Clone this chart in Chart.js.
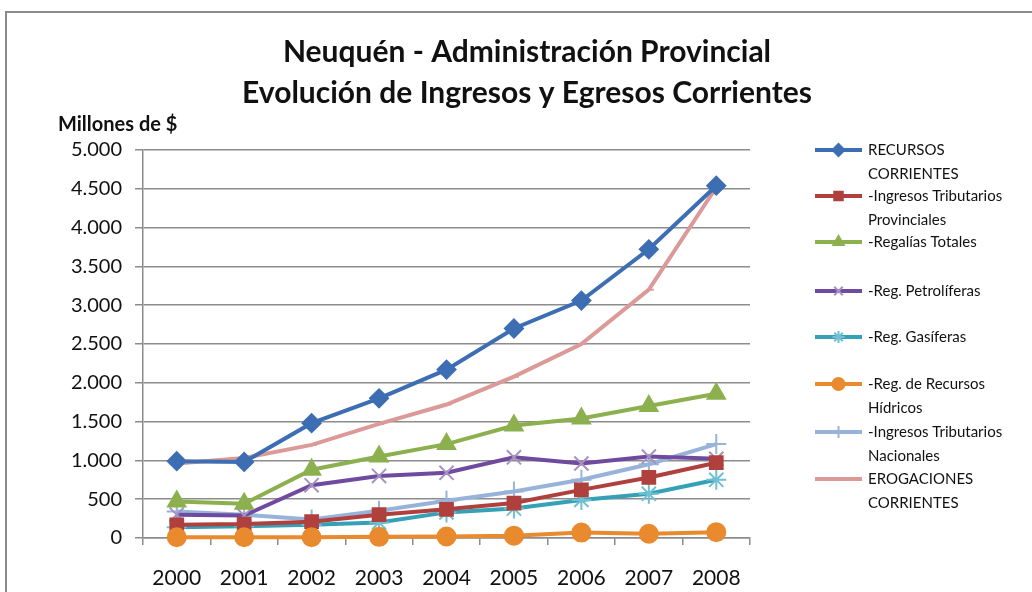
<!DOCTYPE html>
<html>
<head>
<meta charset="utf-8">
<script src="https://cdn.jsdelivr.net/npm/chart.js@4/dist/chart.umd.min.js"></script>
<style>
    html, body { margin: 0; padding: 0; background: #fff; }
    #wrap { position: relative; width: 1032px; height: 592px; overflow: hidden; }
    #frame { position: absolute; left: 5px; top: 11px; width: 1100px; height: 700px;
             border-top: 2px solid #8a8a8a; border-left: 2px solid #8a8a8a; }
    canvas { position: absolute; left: 0; top: 0; }
</style>
</head>
<body>
<div id="wrap">
    <div id="frame"></div>
    <canvas id="chart" width="1032" height="592"></canvas>
</div>
<script>
// 数据
const years = ['2000', '2001', '2002', '2003', '2004', '2005', '2006', '2007', '2008'];

const recursosCorrientes   = [990, 980, 1480, 1800, 2170, 2700, 3060, 3720, 4540];
const tributariosProv      = [170, 180, 210, 300, 370, 450, 620, 780, 970];
const regaliasTotales      = [470, 440, 880, 1050, 1210, 1450, 1540, 1700, 1860];
const regPetroliferas      = [300, 290, 680, 800, 840, 1040, 960, 1050, 1020];
const regGasiferas         = [140, 150, 170, 200, 330, 380, 490, 570, 750];
const regHidricos          = [10, 10, 10, 15, 20, 30, 70, 55, 75];
const tributariosNac       = [340, 300, 240, 350, 480, 600, 750, 950, 1210];
const erogacionesCorrientes = [960, 1030, 1200, 1470, 1720, 2080, 2500, 3200, 4520];

const yTicks = [0, 500, 1000, 1500, 2000, 2500, 3000, 3500, 4000, 4500, 5000];

const titleLines = ['Neuquén - Administración Provincial', 'Evolución de Ingresos y Egresos Corrientes'];
const unitLabel = 'Millones de $';

// 图例文字（按行拆分）
const legendLabels = [
    ['RECURSOS', 'CORRIENTES'],
    ['-Ingresos Tributarios', 'Provinciales'],
    ['-Regalías Totales'],
    ['-Reg. Petrolíferas'],
    ['-Reg. Gasíferas'],
    ['-Reg. de Recursos', 'Hídricos'],
    ['-Ingresos Tributarios', 'Nacionales'],
    ['EROGACIONES', 'CORRIENTES']
];
const legendRows = [150, 196, 242, 291, 337, 384, 432, 479];

const FONT = 'Lato, "Open Sans", sans-serif';

function makeSet(label, data, color, pointStyle, radius, pointColor) {
    return {
        label: label,
        data: data,
        borderColor: color,
        backgroundColor: pointColor || color,
        pointBorderColor: pointColor || color,
        pointBackgroundColor: pointColor || color,
        borderWidth: 4,
        pointStyle: pointStyle,
        pointRadius: radius,
        pointBorderWidth: 2,
        tension: 0,
        clip: false
    };
}

const datasets = [
    makeSet('-Reg. de Recursos Hídricos', regHidricos, '#E98A2E', 'circle', 9),
    makeSet('RECURSOS CORRIENTES', recursosCorrientes, '#3D6DB3', 'rectRot', 9),
    makeSet('-Ingresos Tributarios Provinciales', tributariosProv, '#B0403D', 'rect', 9),
    makeSet('-Regalías Totales', regaliasTotales, '#8DB04E', 'triangle', 10),
    makeSet('-Reg. Petrolíferas', regPetroliferas, '#704A9E', 'crossRot', 10, '#A592C2'),
    makeSet('-Reg. Gasíferas', regGasiferas, '#35A1B6', 'star', 10, '#6EC0D2'),
    makeSet('-Ingresos Tributarios Nacionales', tributariosNac, '#98B3DA', 'cross', 10),
    makeSet('EROGACIONES CORRIENTES', erogacionesCorrientes, '#DB9A98', 'dash', 5)
];

// 图例顺序 -> 数据集下标
const legendOrder = [1, 2, 3, 4, 5, 0, 6, 7];

function fmt(v) {
    return String(v).replace(/\B(?=(\d{3})+(?!\d))/g, '.');
}

// 自定义标题和图例
const decorPlugin = {
    id: 'decor',
    afterDraw(chart) {
        const ctx = chart.ctx;
        ctx.save();
        ctx.fillStyle = '#111';
        ctx.textBaseline = 'middle';
        ctx.textAlign = 'center';
        ctx.font = 'bold 30px ' + FONT;
        ctx.fillText(titleLines[0], 527, 52);
        ctx.fillText(titleLines[1], 527, 93);

        ctx.textAlign = 'left';
        ctx.font = 'bold 20px ' + FONT;
        ctx.fillText(unitLabel, 58, 125);

        ctx.font = '15px ' + FONT;
        legendOrder.forEach((dsIndex, i) => {
            const ds = datasets[dsIndex];
            const y = legendRows[i];
            ctx.strokeStyle = ds.borderColor;
            ctx.lineWidth = 4;
            ctx.beginPath();
            ctx.moveTo(815, y);
            ctx.lineTo(862, y);
            ctx.stroke();
            if (Chart.helpers && Chart.helpers.drawPoint && ds.pointStyle !== 'dash') {
                ctx.fillStyle = ds.pointBackgroundColor;
                ctx.strokeStyle = ds.pointBorderColor;
                ctx.lineWidth = 2;
                Chart.helpers.drawPoint(ctx, {
                    pointStyle: ds.pointStyle,
                    radius: 6,
                    rotation: 0,
                    borderWidth: 2
                }, 838.5, y);
            }
            ctx.fillStyle = '#111';
            legendLabels[i].forEach((line, j) => {
                ctx.fillText(line, 868, y + j * 24);
            });
        });
        ctx.restore();
    }
};

const chart = new Chart(document.getElementById('chart').getContext('2d'), {
    type: 'line',
    data: { labels: years, datasets: datasets },
    options: {
        responsive: false,
        animation: false,
        layout: { padding: { top: 150, right: 282, left: 0, bottom: 0 } },
        plugins: {
            legend: { display: false },
            title: { display: false },
            tooltip: { enabled: false }
        },
        scales: {
            x: {
                offset: true,
                afterFit(scale) { scale.height = 54; },
                grid: { offset: true, drawOnChartArea: false, tickLength: 7, color: '#8c8c8c', lineWidth: 1.5 },
                border: { color: '#8c8c8c', width: 1.5 },
                ticks: { color: '#111', font: { family: FONT, size: 21 }, padding: 21, maxRotation: 0 }
            },
            y: {
                min: 0,
                max: 5000,
                afterFit(scale) { scale.width = 143; },
                afterBuildTicks(scale) { scale.ticks = yTicks.map(v => ({ value: v })); },
                grid: { color: '#8c8c8c', lineWidth: 1.5, tickLength: 8 },
                border: { color: '#8c8c8c', width: 1.5 },
                ticks: {
                    color: '#111',
                    font: { family: FONT, size: 20 },
                    padding: 13,
                    callback: v => fmt(v)
                }
            }
        }
    },
    plugins: [decorPlugin]
});
</script>
</body>
</html>
